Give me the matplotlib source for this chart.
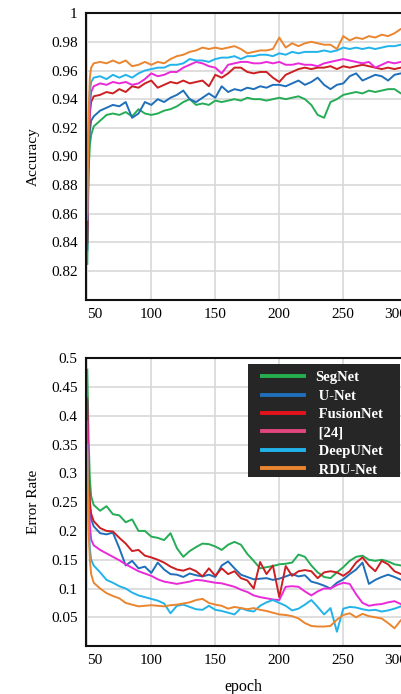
import matplotlib
matplotlib.use("Agg")
import matplotlib.pyplot as plt
import matplotlib.transforms as mtransforms
from matplotlib.lines import Line2D
from matplotlib.patches import Rectangle

plt.rcParams['font.family'] = ['Liberation Serif', 'DejaVu Serif']

# epochs
epochs = [50, 51, 52, 53] + list(range(55, 315, 5))

names = ['SegNet', ' U-Net', ' FusionNet', ' [24]', ' DeepUNet', ' RDU-Net']
line_colors = ['#25ac55', '#1f6fba', '#cc1f22', '#ea2ad8', '#22b3ea', '#ea8530']
legend_colors = ['#25b04f', '#1f6fba', '#e5141c', '#e2467e', '#22b3ea', '#ea8530']

# accuracy
acc_segnet = [0.825, 0.89, 0.908, 0.915, 0.921, 0.925, 0.929, 0.930, 0.929, 0.931, 0.928, 0.933,
              0.930, 0.929, 0.930, 0.932, 0.933, 0.935, 0.938, 0.940, 0.936, 0.937, 0.936, 0.939,
              0.938, 0.939, 0.940, 0.939, 0.941, 0.940, 0.940, 0.939, 0.940, 0.941, 0.940, 0.941,
              0.942, 0.940, 0.936, 0.929, 0.927, 0.938, 0.940, 0.943, 0.944, 0.945, 0.944, 0.946,
              0.945, 0.946, 0.947, 0.947, 0.944, 0.945, 0.946, 0.945]
acc_unet = [0.835, 0.90, 0.918, 0.925, 0.928, 0.932, 0.934, 0.936, 0.935, 0.938, 0.927, 0.930,
            0.938, 0.936, 0.940, 0.938, 0.941, 0.943, 0.946, 0.940, 0.938, 0.941, 0.944, 0.941,
            0.949, 0.945, 0.947, 0.946, 0.948, 0.947, 0.949, 0.948, 0.950, 0.950, 0.949, 0.951,
            0.953, 0.950, 0.952, 0.955, 0.950, 0.947, 0.950, 0.951, 0.956, 0.958, 0.953, 0.955,
            0.957, 0.956, 0.953, 0.957, 0.958, 0.957, 0.958, 0.957]
acc_fusion = [0.84, 0.905, 0.93, 0.938, 0.942, 0.943, 0.945, 0.944, 0.947, 0.945, 0.949, 0.948,
              0.951, 0.953, 0.948, 0.950, 0.952, 0.951, 0.953, 0.951, 0.952, 0.953, 0.949, 0.957,
              0.955, 0.958, 0.962, 0.962, 0.959, 0.958, 0.959, 0.959, 0.955, 0.952, 0.957, 0.959,
              0.961, 0.962, 0.961, 0.962, 0.962, 0.963, 0.961, 0.963, 0.962, 0.963, 0.964, 0.963,
              0.962, 0.961, 0.962, 0.961, 0.962, 0.962, 0.963, 0.962]
acc_ref24 = [0.856, 0.915, 0.935, 0.945, 0.949, 0.951, 0.950, 0.952, 0.951, 0.952, 0.950, 0.951,
             0.954, 0.958, 0.956, 0.957, 0.959, 0.959, 0.962, 0.964, 0.966, 0.965, 0.963, 0.962,
             0.958, 0.964, 0.965, 0.966, 0.966, 0.965, 0.965, 0.966, 0.965, 0.966, 0.964, 0.964,
             0.965, 0.964, 0.964, 0.963, 0.965, 0.966, 0.967, 0.968, 0.967, 0.966, 0.965, 0.966,
             0.962, 0.964, 0.966, 0.965, 0.966, 0.966, 0.967, 0.966]
acc_deepunet = [0.856, 0.92, 0.945, 0.952, 0.955, 0.956, 0.954, 0.957, 0.955, 0.957, 0.955, 0.958,
                0.960, 0.961, 0.962, 0.962, 0.964, 0.964, 0.965, 0.968, 0.967, 0.967, 0.966, 0.968,
                0.969, 0.969, 0.970, 0.968, 0.970, 0.970, 0.971, 0.971, 0.970, 0.972, 0.971, 0.973,
                0.972, 0.973, 0.973, 0.973, 0.974, 0.973, 0.974, 0.976, 0.975, 0.976, 0.975, 0.976,
                0.975, 0.976, 0.977, 0.977, 0.978, 0.978, 0.979, 0.978]
acc_rdunet = [0.86, 0.93, 0.955, 0.962, 0.965, 0.966, 0.965, 0.967, 0.965, 0.967, 0.963, 0.964,
              0.966, 0.964, 0.966, 0.965, 0.968, 0.970, 0.971, 0.973, 0.974, 0.976, 0.975, 0.976,
              0.975, 0.976, 0.977, 0.975, 0.972, 0.973, 0.974, 0.974, 0.975, 0.983, 0.976, 0.979,
              0.977, 0.979, 0.980, 0.979, 0.978, 0.978, 0.975, 0.984, 0.981, 0.983, 0.982, 0.984,
              0.983, 0.985, 0.984, 0.986, 0.989, 0.990, 0.991, 0.990]

# error rate
err_segnet = [0.48, 0.36, 0.29, 0.26, 0.245, 0.235, 0.243, 0.229, 0.227, 0.215, 0.22, 0.20,
              0.20, 0.19, 0.188, 0.184, 0.196, 0.17, 0.155, 0.165, 0.172, 0.178, 0.177, 0.173,
              0.167, 0.176, 0.181, 0.176, 0.16, 0.148, 0.135, 0.137, 0.139, 0.142, 0.143, 0.145,
              0.159, 0.155, 0.14, 0.128, 0.12, 0.118, 0.128, 0.137, 0.148, 0.155, 0.157, 0.15,
              0.148, 0.15, 0.147, 0.142, 0.14, 0.142, 0.14, 0.141]
err_unet = [0.425, 0.29, 0.24, 0.22, 0.208, 0.196, 0.194, 0.197, 0.17, 0.14, 0.148, 0.135,
            0.138, 0.127, 0.145, 0.133, 0.125, 0.124, 0.12, 0.126, 0.123, 0.121, 0.124, 0.12,
            0.14, 0.147, 0.135, 0.124, 0.12, 0.116, 0.117, 0.118, 0.115, 0.117, 0.121, 0.125,
            0.121, 0.123, 0.112, 0.109, 0.105, 0.10, 0.11, 0.116, 0.125, 0.133, 0.145, 0.108,
            0.115, 0.12, 0.124, 0.12, 0.115, 0.118, 0.12, 0.117]
err_fusion = [0.43, 0.30, 0.25, 0.23, 0.217, 0.205, 0.20, 0.199, 0.188, 0.178, 0.165, 0.167,
              0.157, 0.154, 0.15, 0.145, 0.138, 0.133, 0.131, 0.135, 0.13, 0.121, 0.135, 0.122,
              0.135, 0.125, 0.13, 0.118, 0.114, 0.10, 0.146, 0.125, 0.14, 0.085, 0.139, 0.122,
              0.13, 0.132, 0.13, 0.118, 0.128, 0.13, 0.128, 0.122, 0.13, 0.145, 0.154, 0.14,
              0.13, 0.148, 0.142, 0.13, 0.125, 0.128, 0.124, 0.126]
err_ref24 = [0.39, 0.26, 0.21, 0.185, 0.175, 0.167, 0.161, 0.155, 0.149, 0.142, 0.136, 0.13,
             0.126, 0.122, 0.116, 0.112, 0.11, 0.108, 0.11, 0.112, 0.115, 0.114, 0.112, 0.11,
             0.109, 0.106, 0.103, 0.098, 0.094, 0.088, 0.085, 0.083, 0.081, 0.08, 0.103, 0.104,
             0.103, 0.095, 0.088, 0.095, 0.10, 0.10, 0.106, 0.11, 0.108, 0.09, 0.075, 0.07,
             0.072, 0.073, 0.076, 0.078, 0.073, 0.072, 0.074, 0.073]
err_deepunet = [0.35, 0.22, 0.17, 0.15, 0.14, 0.128, 0.115, 0.11, 0.104, 0.10, 0.093, 0.088,
                0.085, 0.082, 0.079, 0.074, 0.057, 0.07, 0.072, 0.068, 0.064, 0.063, 0.07, 0.063,
                0.061, 0.058, 0.055, 0.066, 0.062, 0.06, 0.07, 0.076, 0.08, 0.075, 0.07, 0.062,
                0.065, 0.072, 0.08, 0.068, 0.055, 0.066, 0.025, 0.065, 0.068, 0.067, 0.064, 0.062,
                0.063, 0.06, 0.062, 0.065, 0.069, 0.07, 0.068, 0.069]
err_rdunet = [0.34, 0.20, 0.15, 0.125, 0.11, 0.10, 0.092, 0.087, 0.083, 0.075, 0.072, 0.069,
              0.07, 0.071, 0.07, 0.069, 0.071, 0.072, 0.074, 0.076, 0.08, 0.082, 0.075, 0.072,
              0.07, 0.065, 0.068, 0.066, 0.064, 0.066, 0.063, 0.061, 0.058, 0.055, 0.054, 0.052,
              0.048, 0.04, 0.035, 0.034, 0.034, 0.035, 0.046, 0.054, 0.057, 0.05, 0.056, 0.052,
              0.05, 0.048, 0.04, 0.031, 0.045, 0.048, 0.046, 0.047]

acc_all = [acc_segnet, acc_unet, acc_fusion, acc_ref24, acc_deepunet, acc_rdunet]
err_all = [err_segnet, err_unet, err_fusion, err_ref24, err_deepunet, err_rdunet]

acc_ticks = [0.82, 0.84, 0.86, 0.88, 0.90, 0.92, 0.94, 0.96, 0.98, 1.0]
acc_labels = ['0.82', '0.84', '0.86', '0.88', '0.90', '0.92', '0.94', '0.96', '0.98', '1']
err_ticks = [0.05, 0.1, 0.15, 0.2, 0.25, 0.3, 0.35, 0.4, 0.45, 0.5]
err_labels = ['0.05', '0.1', '0.15', '0.2', '0.25', '0.3', '0.35', '0.4', '0.45', '0.5']
x_ticks = [50, 100, 150, 200, 250, 300]

fig = plt.figure(figsize=(4.02, 6.94), dpi=100)
ax1 = fig.add_axes([0.214, 0.568, 0.831, 0.413])
ax2 = fig.add_axes([0.214, 0.069, 0.831, 0.415])


def style(ax):
    ax.grid(True, color='#d8d8d8', lw=1.2)
    ax.set_axisbelow(True)
    for s in ax.spines.values():
        s.set_linewidth(1.5)
        s.set_color('#111111')
    ax.tick_params(length=0, labelsize=11, pad=6)
    ax.set_xlim(49, 310)
    ax.set_xticks(x_ticks)
    # the source image has its first and last x labels slightly off the grid
    lbls = ax.get_xticklabels()
    lbls[0].set_transform(lbls[0].get_transform()
                          + mtransforms.ScaledTranslation(7 / 100, 0, fig.dpi_scale_trans))
    lbls[-1].set_transform(lbls[-1].get_transform()
                           + mtransforms.ScaledTranslation(-12 / 100, 0, fig.dpi_scale_trans))


for vals, c in zip(acc_all, line_colors):
    ax1.plot(epochs, vals, color=c, lw=1.4)
style(ax1)
ax1.set_ylim(0.80, 1.0)
ax1.set_yticks(acc_ticks)
ax1.set_yticklabels(acc_labels)
ax1.set_ylabel('Accuracy', fontsize=11, labelpad=8)

for vals, c in zip(err_all, line_colors):
    ax2.plot(epochs, vals, color=c, lw=1.4)
style(ax2)
ax2.set_ylim(0, 0.5)
ax2.set_yticks(err_ticks)
ax2.set_yticklabels(err_labels)
ax2.set_ylabel('Error Rate', fontsize=11, labelpad=8)
fig.text(243 / 402, 1 - 687 / 694, 'epoch', fontsize=11.5, ha='center', va='center')

# dark legend box
fig.patches.append(Rectangle((248 / 402, 1 - 477 / 694), 152 / 402, 113 / 694,
                             transform=fig.transFigure, facecolor='#262626',
                             edgecolor='none', zorder=4))
handles = [Line2D([0], [0], color=c, lw=2.8) for c in legend_colors]
leg = fig.legend(handles, names, loc='upper left', bbox_to_anchor=(262 / 402, 1 - 371 / 694),
                 borderaxespad=0, borderpad=0, frameon=False,
                 handlelength=2.9, handletextpad=0.75, labelspacing=0.36,
                 prop={'weight': 'bold', 'size': 10.5})
leg.set_zorder(5)
for t in leg.get_texts():
    t.set_color('white')

fig.savefig('out.png', dpi=100)
